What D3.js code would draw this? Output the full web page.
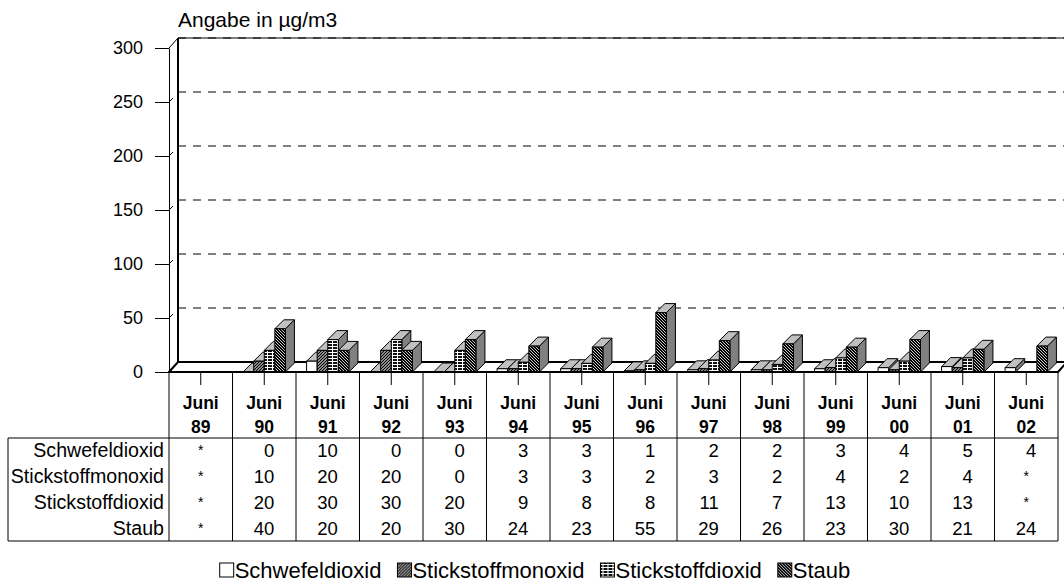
<!DOCTYPE html>
<html>
<head>
<meta charset="utf-8">
<script src="https://cdn.jsdelivr.net/npm/d3@7"></script>
<style>
  body { margin: 0; background: #fff; }
  svg { display: block; font-family: Arial, "Liberation Sans", sans-serif; }
</style>
</head>
<body>
<svg id="chart" width="1064" height="585"></svg>
<script>
// Measurement periods (column headers of the data table)
const categories = ["Juni 89", "Juni 90", "Juni 91", "Juni 92", "Juni 93", "Juni 94", "Juni 95",
                    "Juni 96", "Juni 97", "Juni 98", "Juni 99", "Juni 00", "Juni 01", "Juni 02"];
const seriesNames = ["Schwefeldioxid", "Stickstoffmonoxid", "Stickstoffdioxid", "Staub"];

// Yearly values in µg/m3; null = not measured ("*")
const schwefeldioxid    = [null, 0, 10, 0, 0, 3, 3, 1, 2, 2, 3, 4, 5, 4];
const stickstoffmonoxid = [null, 10, 20, 20, 0, 3, 3, 2, 3, 2, 4, 2, 4, null];
const stickstoffdioxid  = [null, 20, 30, 30, 20, 9, 8, 8, 11, 7, 13, 10, 13, null];
const staub             = [null, 40, 20, 20, 30, 24, 23, 55, 29, 26, 23, 30, 21, 24];

const yTicks = [0, 50, 100, 150, 200, 250, 300];
const titleText = "Angabe in µg/m3";

const seriesValues = [schwefeldioxid, stickstoffmonoxid, stickstoffdioxid, staub];
const patternIds = ["pWhite", "pMono", "pGrid", "pStaub"];

const svg = d3.select("#chart");

// ---- fill patterns ----
const defs = svg.append("defs");
defs.append("pattern").attr("id", "pWhite").attr("patternUnits", "userSpaceOnUse")
  .attr("width", 4).attr("height", 4)
  .append("rect").attr("width", 4).attr("height", 4).attr("fill", "#fff");

const pm = defs.append("pattern").attr("id", "pMono").attr("patternUnits", "userSpaceOnUse")
  .attr("width", 3).attr("height", 3);
pm.append("rect").attr("width", 3).attr("height", 3).attr("fill", "#fff");
pm.append("path").attr("d", "M-1,1 L1,-1 M0,3 L3,0 M2,4 L4,2").attr("stroke", "#000").attr("stroke-width", 1.3);

const pg = defs.append("pattern").attr("id", "pGrid").attr("patternUnits", "userSpaceOnUse")
  .attr("width", 5).attr("height", 3);
pg.append("rect").attr("width", 5).attr("height", 3).attr("fill", "#111");
pg.append("rect").attr("x", 0).attr("y", 1).attr("width", 5).attr("height", 1).attr("fill", "#fff");
pg.append("rect").attr("x", 2).attr("y", 0).attr("width", 1).attr("height", 3).attr("fill", "#fff");

const ps = defs.append("pattern").attr("id", "pStaub").attr("patternUnits", "userSpaceOnUse")
  .attr("width", 3).attr("height", 3);
ps.append("rect").attr("width", 3).attr("height", 3).attr("fill", "#000");
ps.append("path").attr("d", "M-1,2 L1,4 M0,0 L3,3 M2,-1 L4,1").attr("stroke", "#fff").attr("stroke-width", 0.8);

// ---- geometry ----
const plotLeft = 169, plotRight = 1058;
const floorY = 372;
const depth = { dx: 9, dy: -10 };
const barDepth = { dx: 9, dy: -9 };

const x = d3.scaleBand().domain(categories).range([plotLeft, plotRight]).padding(0);
const gap = x.bandwidth() / 6;
const xs = d3.scaleBand().domain(seriesNames).range([gap, x.bandwidth() - gap]).padding(0);
const y = d3.scaleLinear().domain([0, 300]).range([floorY, 48]);

// ---- walls, floor and gridlines ----
const wallX = plotLeft + depth.dx;
const backFloorY = floorY + depth.dy;

// side wall (left)
svg.append("path")
  .attr("d", `M${plotLeft},${floorY} L${plotLeft},${y(300)} L${wallX},${y(300) + depth.dy} L${wallX},${backFloorY} Z`)
  .attr("fill", "#fff").attr("stroke", "none");

// dashed gridlines on the back wall
svg.append("g").selectAll("line").data(yTicks.filter(t => t > 0)).join("line")
  .attr("x1", wallX).attr("x2", 1064)
  .attr("y1", d => y(d) + depth.dy).attr("y2", d => y(d) + depth.dy)
  .attr("stroke", "#000").attr("stroke-width", 1).attr("stroke-dasharray", "8,7");

// top edge of back wall
svg.append("line").attr("x1", wallX).attr("x2", 1064)
  .attr("y1", y(300) + depth.dy).attr("y2", y(300) + depth.dy)
  .attr("stroke", "#000").attr("stroke-width", 1);

// short slants of the gridlines on the side wall
svg.append("g").selectAll("line").data(yTicks.filter(t => t > 0 && t < 300)).join("line")
  .attr("x1", plotLeft).attr("x2", plotLeft + 4)
  .attr("y1", d => y(d)).attr("y2", d => y(d) - 4)
  .attr("stroke", "#000").attr("stroke-width", 1);
svg.append("line").attr("x1", plotLeft).attr("x2", wallX)
  .attr("y1", y(300)).attr("y2", y(300) + depth.dy)
  .attr("stroke", "#000").attr("stroke-width", 1);

// back wall vertical edge
svg.append("line").attr("x1", wallX).attr("x2", wallX)
  .attr("y1", y(300) + depth.dy).attr("y2", backFloorY)
  .attr("stroke", "#000").attr("stroke-width", 2);

// floor
svg.append("path")
  .attr("d", `M${plotLeft},${floorY} L${wallX},${backFloorY} L${1064 + 5},${backFloorY} L${plotRight + depth.dx},${backFloorY} L${plotRight},${floorY} Z`)
  .attr("fill", "#fff").attr("stroke", "#000").attr("stroke-width", 2).attr("stroke-linejoin", "round");

// ---- y axis ----
const yAxis = d3.axisLeft(y).tickValues(yTicks).tickSize(14).tickPadding(12).tickSizeOuter(0);
const yAxisG = svg.append("g").attr("transform", `translate(${plotLeft},0)`).call(yAxis);
yAxisG.select(".domain").attr("stroke", "#000").attr("stroke-width", 1);
yAxisG.selectAll(".tick line").attr("stroke", "#000");
yAxisG.selectAll(".tick text").attr("font-size", 18).attr("fill", "#000")
  .attr("font-family", "Arial, 'Liberation Sans', sans-serif");

// ---- 3D columns ----
const barsG = svg.append("g");
categories.forEach((cat, ci) => {
  seriesNames.forEach((s, si) => {
    const v = seriesValues[si][ci];
    if (v === null) return;
    const x0 = x(cat) + xs(s);
    const w = xs.bandwidth();
    const yt = y(v);
    const yb = floorY;
    const { dx, dy } = barDepth;
    const g = barsG.append("g").attr("stroke", "#000").attr("stroke-width", 1).attr("stroke-linejoin", "round");
    g.append("path")
      .attr("d", `M${x0 + w},${yt} L${x0 + w + dx},${yt + dy} L${x0 + w + dx},${yb + dy} L${x0 + w},${yb} Z`)
      .attr("fill", "#808080");
    g.append("path")
      .attr("d", `M${x0},${yt} L${x0 + dx},${yt + dy} L${x0 + w + dx},${yt + dy} L${x0 + w},${yt} Z`)
      .attr("fill", "#c0c0c0");
    g.append("rect").attr("x", x0).attr("y", yt).attr("width", w).attr("height", yb - yt)
      .attr("fill", `url(#${patternIds[si]})`);
  });
});

// floor front edge drawn over bar bases
svg.append("line").attr("x1", plotLeft).attr("x2", plotRight)
  .attr("y1", floorY).attr("y2", floorY).attr("stroke", "#000").attr("stroke-width", 2);

// ---- data table ----
const tableLeft = 8;
const headerBottom = 438;
const rowH = 25.75;
const tableBottom = headerBottom + rowH * seriesNames.length;
const tbl = svg.append("g").attr("stroke", "#000").attr("stroke-width", 1);

// category ticks under the floor
tbl.selectAll("line.ct").data(categories).join("line").attr("class", "ct")
  .attr("x1", d => x(d) + x.bandwidth() / 2).attr("x2", d => x(d) + x.bandwidth() / 2)
  .attr("y1", floorY).attr("y2", floorY + 13);

// column dividers
const divs = categories.map(c => x(c)).concat([plotRight]);
tbl.selectAll("line.cd").data(divs).join("line").attr("class", "cd")
  .attr("x1", d => d).attr("x2", d => d)
  .attr("y1", floorY).attr("y2", tableBottom);
// horizontal borders
tbl.append("line").attr("x1", tableLeft).attr("x2", plotRight).attr("y1", headerBottom).attr("y2", headerBottom);
tbl.append("line").attr("x1", tableLeft).attr("x2", plotRight).attr("y1", tableBottom).attr("y2", tableBottom);
tbl.append("line").attr("x1", tableLeft).attr("x2", tableLeft).attr("y1", headerBottom).attr("y2", tableBottom);

// header labels
const hdr = svg.append("g").attr("font-weight", "bold").attr("font-size", 17.5).attr("text-anchor", "middle");
categories.forEach(c => {
  const [a, b] = c.split(" ");
  const cx = x(c) + x.bandwidth() / 2;
  hdr.append("text").attr("x", cx).attr("y", 409).text(a);
  hdr.append("text").attr("x", cx).attr("y", 433).text(b);
});

// row labels and values
const body = svg.append("g").attr("font-size", 18.5);
seriesNames.forEach((s, si) => {
  const cy = headerBottom + rowH * si + rowH / 2 + 6.5;
  body.append("text").attr("x", plotLeft - 5).attr("y", cy).attr("text-anchor", "end")
    .attr("font-size", 19.6).text(s);
  categories.forEach((c, ci) => {
    const v = seriesValues[si][ci];
    const cx = x(c) + x.bandwidth() / 2;
    if (v === null) {
      body.append("text").attr("x", cx).attr("y", cy - 2).attr("text-anchor", "middle").attr("font-size", 14).text("*");
    } else {
      body.append("text").attr("x", cx + 10).attr("y", cy).attr("text-anchor", "end").text(v);
    }
  });
});

// ---- title ----
svg.append("text").attr("x", 178).attr("y", 27).attr("font-size", 21).text(titleText);

// ---- legend ----
const legend = svg.append("g").attr("font-size", 22);
const items = legend.selectAll("g").data(seriesNames).join("g");
items.append("rect").attr("width", 14).attr("height", 14).attr("y", -15)
  .attr("fill", (d, i) => `url(#${patternIds[i]})`).attr("stroke", "#000").attr("stroke-width", 1);
items.append("text").attr("x", 15).attr("y", 0).text(d => d);
let cursor = 0;
const itemGap = 16;
items.each(function () {
  const tw = d3.select(this).select("text").node().getComputedTextLength();
  d3.select(this).attr("transform", `translate(${cursor},0)`);
  cursor += 15 + tw + itemGap;
});
const totalW = cursor - itemGap;
legend.attr("transform", `translate(${535 - totalW / 2},578)`);
</script>
</body>
</html>
